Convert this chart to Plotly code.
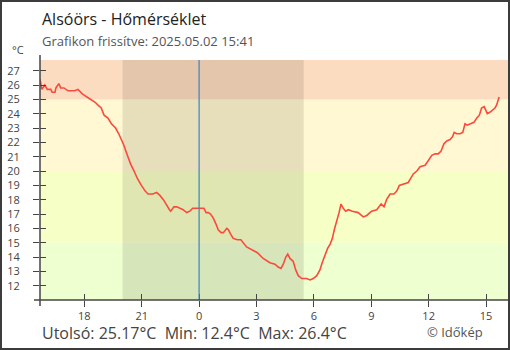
import pandas as pd
import plotly.graph_objects as go

# --- data -------------------------------------------------------------
START = pd.Timestamp("2025-05-01 15:41")
RANGE_END = pd.Timestamp("2025-05-02 16:12")

# minutes after the first reading
minutes = [
    0, 6, 15, 23, 34, 38, 47, 50, 59, 65,
    75, 88, 103, 109, 119, 132, 145, 161, 173, 182,
    192, 201, 213, 224, 237, 247, 255, 263, 274, 284,
    295, 305, 318, 330, 339, 354, 366, 376, 387, 397,
    406, 410, 420, 429, 439, 449, 460, 470, 479, 497,
    504, 514, 521, 528, 535, 544, 552, 559, 568, 575,
    586, 591, 598, 606, 619, 630, 648, 664, 682, 700,
    706, 721, 737, 747, 756, 763, 771, 777, 784, 794,
    802, 810, 821, 836, 847, 857, 868, 878, 885, 894,
    902, 910, 917, 923, 931, 938, 944, 951, 959, 967,
    980, 998, 1014, 1025, 1040, 1056, 1070, 1079, 1087, 1098,
    1110, 1119, 1127, 1140, 1155, 1163, 1171, 1182, 1192, 1208,
    1218, 1229, 1239, 1249, 1258, 1267, 1276, 1286, 1294, 1299,
    1307, 1317, 1326, 1333, 1340, 1351, 1361, 1370, 1378, 1385,
    1393, 1397, 1403, 1411, 1420, 1427, 1432, 1437, 1440,
]
temps = [
    26.4, 25.7, 26.0, 25.7, 25.7, 25.5, 25.5, 25.8, 26.1, 25.8,
    25.8, 25.6, 25.6, 25.6, 25.7, 25.4, 25.2, 25.0, 24.8, 24.6,
    24.4, 23.9, 23.7, 23.3, 23.0, 22.6, 22.2, 21.8, 21.1, 20.5,
    20.0, 19.5, 19.0, 18.6, 18.4, 18.4, 18.5, 18.3, 18.0, 17.6,
    17.3, 17.2, 17.5, 17.5, 17.4, 17.3, 17.1, 17.2, 17.4, 17.4,
    17.4, 17.4, 17.1, 17.1, 17.0, 16.7, 16.3, 15.9, 15.7, 15.7,
    16.0, 15.9, 15.6, 15.3, 15.2, 15.2, 14.7, 14.5, 14.3, 13.9,
    13.8, 13.6, 13.5, 13.3, 13.2, 13.5, 14.0, 14.2, 13.9, 13.7,
    13.1, 12.7, 12.5, 12.5, 12.4, 12.5, 12.7, 13.1, 13.6, 14.2,
    14.6, 14.9, 15.3, 15.9, 16.5, 17.1, 17.7, 17.4, 17.2, 17.3,
    17.2, 17.1, 16.8, 16.9, 17.2, 17.3, 17.7, 17.5, 18.0, 18.4,
    18.4, 18.6, 19.0, 19.1, 19.2, 19.5, 19.8, 20.0, 20.3, 20.4,
    20.7, 21.1, 21.2, 21.2, 21.4, 21.9, 22.1, 22.2, 22.4, 22.7,
    22.6, 22.6, 22.7, 23.3, 23.2, 23.3, 23.4, 23.7, 23.9, 24.4,
    24.5, 24.3, 24.0, 24.1, 24.3, 24.4, 24.6, 24.9, 25.17,
]
assert len(minutes) == len(temps)

times = [START + pd.Timedelta(minutes=m) for m in minutes]

# temperature bands (lower, upper, colour)
band_edges = [11, 15, 20, 25, 27.75]
band_colors = ["#eeffd0", "#f6ffc6", "#fff8d2", "#fcdcc0"]

sunset = pd.Timestamp("2025-05-01 20:00")
sunrise = pd.Timestamp("2025-05-02 05:28")
midnight = pd.Timestamp("2025-05-02 00:00")

x_tick_times = [
    "2025-05-01 18:00", "2025-05-01 21:00", "2025-05-02 00:00",
    "2025-05-02 03:00", "2025-05-02 06:00", "2025-05-02 09:00",
    "2025-05-02 12:00", "2025-05-02 15:00",
]
x_tick_text = ["18", "21", "0", "3", "6", "9", "12", "15"]
y_ticks = list(range(12, 28))

# --- geometry ---------------------------------------------------------
W, H = 510, 350
ML, MR, MT, MB = 40, 1, 60, 50
PW, PH = W - ML - MR, H - MT - MB


def px(x):
    return (x - ML) / PW


def py(y):
    return (H - MB - y) / PH


FONT = "Open Sans"
AX = "#444444"

fig = go.Figure()
fig.add_trace(go.Scatter(
    x=times, y=temps, mode="lines",
    line=dict(color="#fb4a3c", width=1.6),
    hoverinfo="skip", showlegend=False,
))
# empty trace so the overlay axes (inner tick halves) are drawn
fig.add_trace(go.Scatter(x=[], y=[], xaxis="x2", yaxis="y2",
                         showlegend=False, hoverinfo="skip"))

shapes = []
for lo, hi, col in zip(band_edges[:-1], band_edges[1:], band_colors):
    shapes.append(dict(type="rect", xref="paper", yref="y", x0=0, x1=1,
                       y0=lo, y1=hi, fillcolor=col, line_width=0,
                       layer="below"))
shapes.append(dict(type="rect", xref="x", yref="paper", x0=sunset,
                   x1=sunrise, y0=0, y1=1, fillcolor="rgba(20,10,0,0.1)",
                   line_width=0, layer="below"))
shapes.append(dict(type="line", xref="x", yref="paper", x0=midnight,
                   x1=midnight, y0=0, y1=1,
                   line=dict(color="#3a84c0", width=1.2)))
# axis lines reaching past the plot corner
shapes.append(dict(type="line", xref="paper", yref="paper", x0=px(34),
                   x1=1, y0=0, y1=0, line=dict(color=AX, width=1.5)))
shapes.append(dict(type="line", xref="paper", yref="paper", x0=0, x1=0,
                   y0=py(306), y1=py(55), line=dict(color=AX, width=1.5)))
# outer frame
shapes.append(dict(type="rect", xref="paper", yref="paper", x0=px(1),
                   x1=px(509), y0=py(349), y1=py(1),
                   line=dict(color="#3c3c3c", width=2)))

summary = (f"Utolsó: {temps[-1]:.2f}°C\u00a0\u00a0Min: {min(temps):.1f}°C"
           f"\u00a0\u00a0Max: {max(temps):.1f}°C")

annotations = [
    dict(text="Alsóörs - Hőmérséklet", x=0, y=py(19), xanchor="left",
         yanchor="middle", font=dict(size=16, color="#222222")),
    dict(text="Grafikon frissítve: 2025.05.02 15:41", x=0, y=py(41),
         xanchor="left", yanchor="middle",
         font=dict(size=13, color="#555555")),
    dict(text="°C", x=px(18), y=py(50), xanchor="center", yanchor="middle",
         font=dict(size=11, color="#444444")),
    dict(text=summary, x=0, y=py(333), xanchor="left", yanchor="middle",
         font=dict(size=16, color="#444444")),
    dict(text="© Időkép", x=px(425), y=py(332), xanchor="left",
         yanchor="middle", font=dict(size=13, color="#555555")),
]
for a in annotations:
    a.update(xref="paper", yref="paper", showarrow=False)

xr = [START, RANGE_END]
yr = [band_edges[0], band_edges[-1]]

fig.update_layout(
    width=W, height=H,
    margin=dict(l=ML, r=MR, t=MT, b=MB, pad=0),
    paper_bgcolor="white", plot_bgcolor="white",
    font=dict(family=FONT, color="#444444"),
    shapes=shapes, annotations=annotations,
    xaxis=dict(type="date", range=xr, showgrid=False, zeroline=False,
               showline=False, tickmode="array", tickvals=x_tick_times,
               ticktext=x_tick_text, ticks="outside", ticklen=6,
               tickwidth=1.3, tickcolor=AX, tickfont=dict(size=11),
               fixedrange=True),
    yaxis=dict(range=yr, showgrid=False, zeroline=False, showline=False,
               tickmode="array", tickvals=y_ticks, ticks="outside",
               ticklen=6, tickwidth=1.3, tickcolor=AX,
               tickfont=dict(size=11), ticklabelstandoff=11,
               fixedrange=True),
    xaxis2=dict(type="date", range=xr, overlaying="x", anchor="y2",
                showgrid=False, zeroline=False, showline=False,
                tickmode="array", tickvals=x_tick_times, ticks="inside",
                ticklen=6, tickwidth=1.3, tickcolor=AX,
                showticklabels=False, fixedrange=True),
    yaxis2=dict(range=yr, overlaying="y", anchor="x2", showgrid=False,
                zeroline=False, showline=False, tickmode="array",
                tickvals=y_ticks, ticks="inside", ticklen=6, tickwidth=1.3,
                tickcolor=AX, showticklabels=False, fixedrange=True),
)

fig.write_html("out.html", config={"displayModeBar": False})
